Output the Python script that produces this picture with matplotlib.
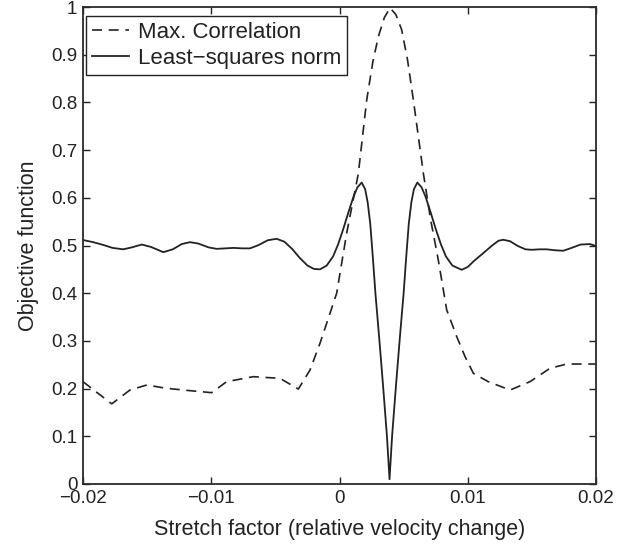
import numpy as np
import matplotlib
matplotlib.use("Agg")
import matplotlib.pyplot as plt

plt.rcParams['font.family'] = ['Liberation Sans', 'DejaVu Sans']

# Max. correlation (dashed)
corr_x = [-0.0200, -0.01776, -0.01634, -0.01503, -0.01347, -0.01166, -0.00997,
          -0.0088, -0.00672, -0.00464, -0.00321, -0.0023, -0.00152, -0.0009,
          -0.00022, 0.00056, 0.00147, 0.00212, 0.0026, 0.00303, 0.0035,
          0.00394, 0.0044, 0.00485, 0.0053, 0.00576, 0.00654, 0.0071, 0.0077,
          0.00836, 0.00914, 0.00979, 0.01044, 0.0116, 0.0133, 0.01485,
          0.01641, 0.01771, 0.0200]
corr_y = [0.2145, 0.168, 0.197, 0.2075, 0.2005, 0.1957, 0.1915,
          0.2145, 0.225, 0.2215, 0.199, 0.239, 0.295, 0.345,
          0.400, 0.526, 0.651, 0.805, 0.885, 0.938, 0.978,
          0.998, 0.984, 0.952, 0.890, 0.805, 0.651, 0.555, 0.470,
          0.365, 0.309, 0.267, 0.232, 0.2145, 0.197, 0.2145,
          0.2425, 0.2515, 0.2515]

# Least-squares norm (solid)
ls_x = [-0.0200, -0.0192, -0.0184, -0.0177, -0.01686, -0.0162, -0.01542,
        -0.0147, -0.01374, -0.0130, -0.0123, -0.01166, -0.0110, -0.0102,
        -0.00958, -0.0089, -0.00828, -0.0076, -0.00698, -0.0063, -0.0056,
        -0.0049, -0.0043, -0.0037, -0.0031, -0.0025, -0.0020, -0.00152,
        -0.0010, -0.0005, -0.0001, 0.0003, 0.0007, 0.0011, 0.0014, 0.00173,
        0.0020, 0.0022, 0.0024, 0.0026, 0.0028, 0.0031, 0.0034, 0.0037,
        0.0039, 0.0041, 0.0044, 0.0047, 0.0050, 0.0052, 0.0054, 0.0056,
        0.0058, 0.00607, 0.0064, 0.0067, 0.0071, 0.0075, 0.0079, 0.0083,
        0.0088, 0.00953, 0.0100, 0.0105, 0.01121, 0.0119, 0.0124, 0.01277,
        0.0133, 0.0139, 0.0145, 0.01499, 0.0156, 0.01616, 0.0168, 0.01745,
        0.0181, 0.0188, 0.01953, 0.0200]
ls_y = [0.5115, 0.507, 0.501, 0.495, 0.492, 0.496, 0.502,
        0.497, 0.486, 0.492, 0.503, 0.507, 0.504, 0.496,
        0.493, 0.494, 0.495, 0.494, 0.494, 0.501, 0.511,
        0.514, 0.508, 0.493, 0.474, 0.458, 0.451, 0.450,
        0.458, 0.477, 0.503, 0.535, 0.570, 0.603, 0.622, 0.632,
        0.618, 0.590, 0.545, 0.475, 0.400, 0.305, 0.205, 0.100,
        0.010, 0.100, 0.205, 0.305, 0.400, 0.475, 0.545, 0.590,
        0.618, 0.632, 0.622, 0.603, 0.570, 0.535, 0.503, 0.477,
        0.458, 0.449, 0.455, 0.468, 0.484, 0.500, 0.510, 0.512,
        0.509, 0.499, 0.492, 0.491, 0.492, 0.492, 0.490, 0.489,
        0.495, 0.502, 0.503, 0.499]

xticks = [-0.02, -0.01, 0, 0.01, 0.02]
xtick_labels = ['\u22120.02', '\u22120.01', '0', '0.01', '0.02']
yticks = [0, 0.1, 0.2, 0.3, 0.4, 0.5, 0.6, 0.7, 0.8, 0.9, 1]
ytick_labels = ['0', '0.1', '0.2', '0.3', '0.4', '0.5', '0.6', '0.7', '0.8', '0.9', '1']

fig = plt.figure(figsize=(6.31, 5.51), dpi=100)
ax = fig.add_axes([83 / 631, 67 / 551, 513 / 631, 477 / 551])

ink = '#222222'
ax.plot(corr_x, corr_y, color=ink, lw=1.2, linestyle=(0, (6, 4)),
        label='Max. Correlation')
ax.plot(ls_x, ls_y, color=ink, lw=1.3, label='Least\u2212squares norm')

ax.set_xlim(-0.02, 0.02)
ax.set_ylim(0, 1)
ax.set_xticks(xticks)
ax.set_xticklabels(xtick_labels)
ax.set_yticks(yticks)
ax.set_yticklabels(ytick_labels)
ax.tick_params(direction='in', length=5, width=1, top=True, right=True,
               labelsize=13.5, colors=ink, pad=4)
for s in ax.spines.values():
    s.set_linewidth(1.3)
    s.set_color('#2a2a2a')

ax.set_xlabel('Stretch factor (relative velocity change)', fontsize=15.5,
              color=ink, labelpad=9)
ax.set_ylabel('Objective function', fontsize=15.5, color=ink, labelpad=9)

leg = ax.legend(loc='upper left', bbox_to_anchor=(3 / 513, 1 - 9 / 477),
                borderaxespad=0, fontsize=16, fancybox=False, framealpha=1,
                edgecolor=ink, handlelength=1.7, handletextpad=0.4,
                borderpad=0.25, labelspacing=0.25)
leg.get_frame().set_linewidth(1.0)
for t in leg.get_texts():
    t.set_color(ink)

fig.savefig('out.png', dpi=100)
